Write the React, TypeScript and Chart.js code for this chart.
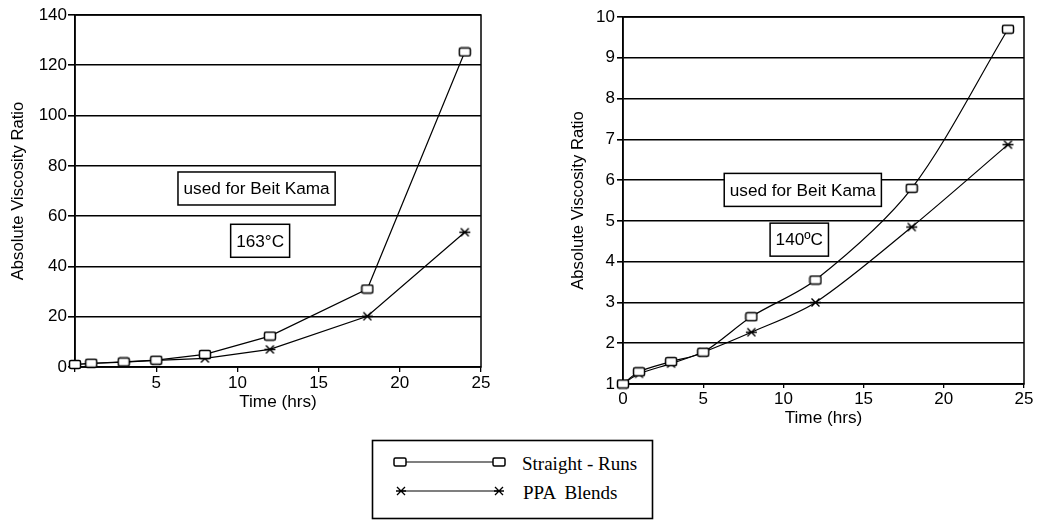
import React, { useEffect, useRef } from "react";
import { Chart, registerables } from "chart.js";

Chart.register(...registerables);

// Ageing time, hours
const hours = [0, 1, 3, 5, 8, 12, 18, 24];

// 163 °C panel
const straightRuns163 = [1, 1.5, 2, 2.7, 5, 12.3, 31, 125.3];
const ppaBlends163 = [1, 1.4, 1.9, 2.6, 3.4, 7, 20.2, 53.6];

// 140 °C panel
const straightRuns140 = [1, 1.3, 1.55, 1.78, 2.65, 3.55, 5.8, 9.7];
const ppaBlends140 = [1, 1.25, 1.5, 1.78, 2.27, 3.0, 4.85, 6.87];

const seriesNames = ["Straight - Runs", "PPA  Blends"];
const xAxisTitle = "Time (hrs)";
const yAxisTitle = "Absolute Viscosity Ratio";
const noteUsedFor = "used for Beit Kama";
const note163 = "163°C";
const note140 = "140ºC";

const SANS = '"Liberation Sans", Arial, Helvetica, sans-serif';
const SERIF = '"Liberation Serif", "Times New Roman", serif';
const TICK_SIZE = 17;
const TITLE_SIZE = 16.7;
const NOTE_SIZE = 17.2;

function squareMarker(): HTMLCanvasElement {
  const c = document.createElement("canvas");
  c.width = 14;
  c.height = 11;
  const g = c.getContext("2d")!;
  g.fillStyle = "#fff";
  g.strokeStyle = "#000";
  g.lineWidth = 1.5;
  g.beginPath();
  (g as any).roundRect(1.5, 1.5, 11, 8, 1.5);
  g.fill();
  g.stroke();
  return c;
}

function starMarker(): HTMLCanvasElement {
  const c = document.createElement("canvas");
  c.width = 13;
  c.height = 11;
  const g = c.getContext("2d")!;
  g.strokeStyle = "#000";
  g.lineWidth = 1.4;
  g.beginPath();
  g.moveTo(1, 5.5);
  g.lineTo(12, 5.5);
  g.moveTo(2.5, 1.5);
  g.lineTo(10.5, 9.5);
  g.moveTo(2.5, 9.5);
  g.lineTo(10.5, 1.5);
  g.stroke();
  return c;
}

// Outline of the plotting area (top and right edges)
const framePlugin = {
  id: "frame",
  beforeDatasetsDraw(chart: any) {
    const { left, top, right, bottom } = chart.chartArea;
    const ctx = chart.ctx;
    ctx.save();
    ctx.strokeStyle = "#000";
    ctx.lineWidth = 1.5;
    ctx.strokeRect(left, top, right - left, bottom - top);
    ctx.restore();
  },
};

// Boxed text notes placed in data coordinates
const notesPlugin = {
  id: "notes",
  beforeDatasetsDraw(chart: any, _args: any, opts: any) {
    const ctx = chart.ctx;
    const xs = chart.scales.x;
    const ys = chart.scales.y;
    ctx.save();
    ctx.font = `${NOTE_SIZE}px ${SANS}`;
    ctx.textAlign = "center";
    ctx.textBaseline = "middle";
    for (const n of opts.items || []) {
      const cx = xs.getPixelForValue(n.x);
      const cy = ys.getPixelForValue(n.y);
      const w = ctx.measureText(n.text).width + 11;
      const h = 33;
      ctx.fillStyle = "#fff";
      ctx.fillRect(cx - w / 2, cy - h / 2, w, h);
      ctx.strokeStyle = "#000";
      ctx.lineWidth = 1.5;
      ctx.strokeRect(cx - w / 2, cy - h / 2, w, h);
      ctx.fillStyle = "#000";
      ctx.fillText(n.text, cx, cy + 1);
    }
    ctx.restore();
  },
};

type PanelProps = {
  left: number;
  width: number;
  height: number;
  straight: number[];
  ppa: number[];
  yMin: number;
  yMax: number;
  yStep: number;
  showZeroX: boolean;
  tension: number;
  pad: { left: number; top: number; right: number; bottom: number };
  yWidth: number;
  xHeight: number;
  xTickLen: number;
  xTickPad: number;
  yTickLen: number;
  yTickPad: number;
  notes: { text: string; x: number; y: number }[];
};

function ViscosityPanel(p: PanelProps) {
  const ref = useRef<HTMLCanvasElement>(null);

  useEffect(() => {
    const sq = squareMarker();
    const st = starMarker();
    const toPts = (vals: number[]) => hours.map((h, i) => ({ x: h, y: vals[i] }));
    const chart = new Chart(ref.current!, {
      type: "line",
      data: {
        datasets: [
          {
            label: seriesNames[0],
            data: toPts(p.straight),
            borderColor: "#000",
            borderWidth: 1.2,
            pointStyle: sq as any,
            pointRadius: 5,
            tension: p.tension,
            clip: false as any,
          },
          {
            label: seriesNames[1],
            data: toPts(p.ppa),
            borderColor: "#000",
            borderWidth: 1.2,
            pointStyle: st as any,
            pointRadius: 5,
            tension: p.tension,
            clip: false as any,
          },
        ],
      },
      options: {
        animation: false,
        responsive: false,
        events: [],
        layout: { padding: p.pad },
        plugins: {
          legend: { display: false },
          tooltip: { enabled: false },
          notes: { items: p.notes },
        } as any,
        scales: {
          x: {
            type: "linear",
            min: 0,
            max: 25,
            afterFit: (s: any) => {
              s.height = p.xHeight;
            },
            ticks: {
              stepSize: 5,
              color: "#000",
              padding: p.xTickPad,
              maxRotation: 0,
              font: { family: SANS, size: TICK_SIZE, lineHeight: 1 },
              callback: (v: any) => (Number(v) === 0 && !p.showZeroX ? "" : String(v)),
            },
            grid: {
              drawOnChartArea: false,
              drawTicks: true,
              tickLength: p.xTickLen,
              color: "#000",
              lineWidth: 1.3,
            },
            border: { display: true, color: "#000", width: 1.5 },
            title: {
              display: true,
              text: xAxisTitle,
              color: "#000",
              padding: 0,
              font: { family: SANS, size: 17.2 },
            },
          },
          y: {
            type: "linear",
            min: p.yMin,
            max: p.yMax,
            afterFit: (s: any) => {
              s.width = p.yWidth;
            },
            ticks: {
              stepSize: p.yStep,
              color: "#000",
              padding: p.yTickPad,
              font: { family: SANS, size: TICK_SIZE, lineHeight: 1 },
            },
            grid: {
              color: "#000",
              lineWidth: 1.6,
              tickLength: p.yTickLen,
            },
            border: { display: true, color: "#000", width: 1.5 },
            title: {
              display: true,
              text: yAxisTitle,
              color: "#000",
              padding: 0,
              font: { family: SANS, size: TITLE_SIZE },
            },
          },
        },
      },
      plugins: [framePlugin, notesPlugin],
    } as any);
    return () => chart.destroy();
  }, []);

  return (
    <canvas
      ref={ref}
      width={p.width}
      height={p.height}
      style={{ position: "absolute", left: p.left, top: 0, width: p.width, height: p.height }}
    />
  );
}

function Legend() {
  const sq = (cx: number, cy: number) => (
    <rect x={cx - 6} y={cy - 4} width={12} height={8} rx={1.5} fill="#fff" stroke="#000" strokeWidth={1.5} />
  );
  const star = (cx: number, cy: number) => (
    <path
      d={`M${cx - 5} ${cy} H${cx + 5} M${cx - 4} ${cy - 4} L${cx + 4} ${cy + 4} M${cx - 4} ${cy + 4} L${cx + 4} ${cy - 4}`}
      stroke="#000"
      strokeWidth={1.3}
      fill="none"
    />
  );
  return (
    <svg width={284} height={82} style={{ position: "absolute", left: 371, top: 439 }}>
      <rect x={1.5} y={1.5} width={280} height={78} fill="#fff" stroke="#000" strokeWidth={1.6} />
      <line x1={29} y1={23} x2={128} y2={23} stroke="#000" strokeWidth={1.2} />
      {sq(29, 23)}
      {sq(128, 23)}
      <text x={151} y={24} fontFamily={SERIF} fontSize={19} dominantBaseline="central" fill="#000">
        {seriesNames[0]}
      </text>
      <line x1={30} y1={52} x2={128} y2={52} stroke="#000" strokeWidth={1.2} />
      {star(30, 52)}
      {star(128, 52)}
      <text
        x={152}
        y={53}
        fontFamily={SERIF}
        fontSize={19}
        dominantBaseline="central"
        fill="#000"
        style={{ whiteSpace: "pre" }}
      >
        {seriesNames[1]}
      </text>
    </svg>
  );
}

export default function App() {
  return (
    <div
      style={{
        position: "absolute",
        left: 0,
        top: 0,
        width: 1038,
        height: 523,
        background: "#fff",
        overflow: "hidden",
      }}
    >
      <ViscosityPanel
        left={0}
        width={520}
        height={420}
        straight={straightRuns163}
        ppa={ppaBlends163}
        yMin={0}
        yMax={140}
        yStep={20}
        showZeroX={false}
        tension={0}
        pad={{ left: 8.4, top: 15, right: 39, bottom: 7.4 }}
        yWidth={66.6}
        xHeight={45.6}
        xTickLen={5}
        xTickPad={3}
        yTickLen={7}
        yTickPad={1}
        notes={[
          { text: noteUsedFor, x: 11.18, y: 71 },
          { text: note163, x: 11.4, y: 50.2 },
        ]}
      />
      <ViscosityPanel
        left={540}
        width={498}
        height={440}
        straight={straightRuns140}
        ppa={ppaBlends140}
        yMin={1}
        yMax={10}
        yStep={1}
        showZeroX={true}
        tension={0.3}
        pad={{ left: 28.4, top: 17, right: 14, bottom: 11.4 }}
        yWidth={54.6}
        xHeight={44.6}
        xTickLen={4}
        xTickPad={3}
        yTickLen={6}
        yTickPad={2}
        notes={[
          { text: noteUsedFor, x: 11.21, y: 5.76 },
          { text: note140, x: 10.99, y: 4.54 },
        ]}
      />
      <Legend />
    </div>
  );
}
